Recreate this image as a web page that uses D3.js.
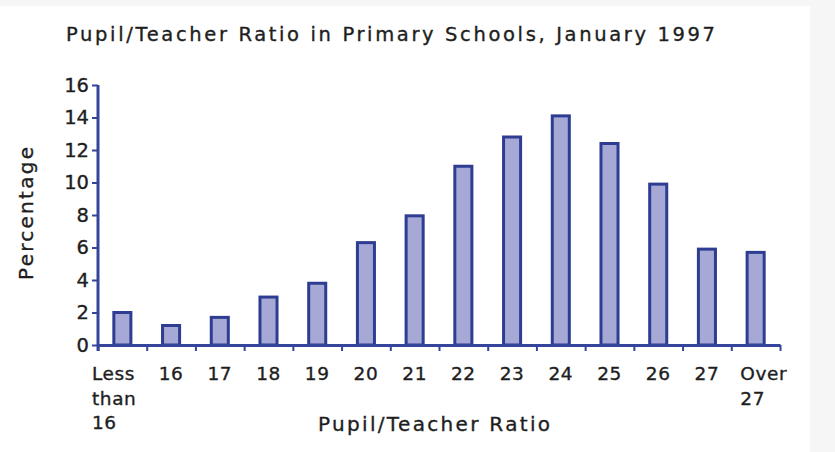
<!DOCTYPE html>
<html>
  <head>
    <meta charset="UTF-8">
    <title>Pupil/Teacher Ratio</title>
    <style>
      body {margin: 0; background-color: #f6f6f6;}
      #chart svg {display: block;}
      text {font-family: "DejaVu Sans", Arial, sans-serif; fill: #1e1e1e; stroke: #1e1e1e; stroke-width: 0.35px;}
    </style>
  </head>
  <body>
    <div id="chart"></div>
    <script src="https://d3js.org/d3.v7.min.js"></script>
    <script>

const categories = ["<16", "16", "17", "18", "19", "20", "21", "22", "23", "24", "25", "26", "27", ">27"];
const tickLabels = [["Less", "than", "16"], ["16"], ["17"], ["18"], ["19"], ["20"], ["21"], ["22"], ["23"], ["24"], ["25"], ["26"], ["27"], ["Over", "27"]];
const percentages = [2.0, 1.2, 1.7, 2.95, 3.8, 6.3, 7.95, 11.0, 12.8, 14.1, 12.4, 9.9, 5.9, 5.7];
const yTicks = [0, 2, 4, 6, 8, 10, 12, 14, 16];

const width = 835, height = 452;
const axisColor = "#34459b";

const svg = d3.select("#chart").append("svg")
  .attr("width", width)
  .attr("height", height);

// white panel, grey strips top and right like the scan
svg.append("rect")
  .attr("x", 0).attr("y", 6)
  .attr("width", 810).attr("height", height - 6)
  .attr("fill", "#ffffff");

const x = d3.scaleBand().domain(categories).range([98, 780]).padding(0);
const y = d3.scaleLinear().domain([0, 16]).range([345, 85]);
const barW = x.bandwidth() * 0.35;

// bars
svg.selectAll("rect.bar").data(percentages).join("rect")
  .attr("class", "bar")
  .attr("x", (d, i) => x(categories[i]) + (x.bandwidth() - barW) / 2)
  .attr("y", d => y(d))
  .attr("width", barW)
  .attr("height", d => y(0) - y(d))
  .attr("fill", "#a6a9d6")
  .attr("stroke", "#2e3d92")
  .attr("stroke-width", 3);

// y axis
const yAxis = svg.append("g")
  .attr("transform", "translate(98,0)")
  .call(d3.axisLeft(y).tickValues(yTicks).tickSize(6).tickSizeOuter(0).tickPadding(3));
yAxis.select(".domain").remove();
yAxis.selectAll(".tick line").attr("stroke", axisColor).attr("stroke-width", 2);
yAxis.selectAll(".tick text")
  .attr("font-family", "DejaVu Sans")
  .attr("font-size", 19.5)
  .attr("fill", "#1e1e1e");
yAxis.append("line")
  .attr("x1", 0).attr("x2", 0)
  .attr("y1", y(16)).attr("y2", y(0) + 6)
  .attr("stroke", axisColor).attr("stroke-width", 3);

// x axis: ticks on the category boundaries
const idx = d3.scaleLinear().domain([0, categories.length]).range(x.range());
const xAxis = svg.append("g")
  .attr("transform", `translate(0,${y(0)})`)
  .call(d3.axisBottom(idx).ticks(categories.length).tickSize(6).tickSizeOuter(0).tickFormat(""));
xAxis.select(".domain").attr("stroke", axisColor).attr("stroke-width", 3);
xAxis.selectAll(".tick line").attr("stroke", axisColor).attr("stroke-width", 2);

// category labels, stacked on lines
const labels = svg.append("g").attr("font-size", 18.5);
tickLabels.forEach((lines, i) => {
  const first = i === 0, last = i === tickLabels.length - 1;
  const t = labels.append("text")
    .attr("text-anchor", first || last ? "start" : "middle")
    .attr("letter-spacing", 0.6);
  const cx = first ? x(categories[i]) - 6 : last ? x(categories[i]) + 9 : x(categories[i]) + x.bandwidth() / 2;
  lines.forEach((s, j) => {
    t.append("tspan").attr("x", cx).attr("y", 380 + j * 24.5).text(s);
  });
});

// titles
svg.append("text")
  .attr("x", 66).attr("y", 41)
  .attr("font-size", 19.5)
  .attr("textLength", 649)
  .attr("lengthAdjust", "spacing")
  .text("Pupil/Teacher Ratio in Primary Schools, January 1997");

svg.append("text")
  .attr("x", 318).attr("y", 431)
  .attr("font-size", 20)
  .attr("textLength", 232)
  .attr("lengthAdjust", "spacing")
  .text("Pupil/Teacher Ratio");

svg.append("text")
  .attr("transform", "rotate(-90)")
  .attr("x", -280).attr("y", 33)
  .attr("font-size", 20)
  .attr("textLength", 133)
  .attr("lengthAdjust", "spacing")
  .text("Percentage");

 </script>
  </body>
</html>
